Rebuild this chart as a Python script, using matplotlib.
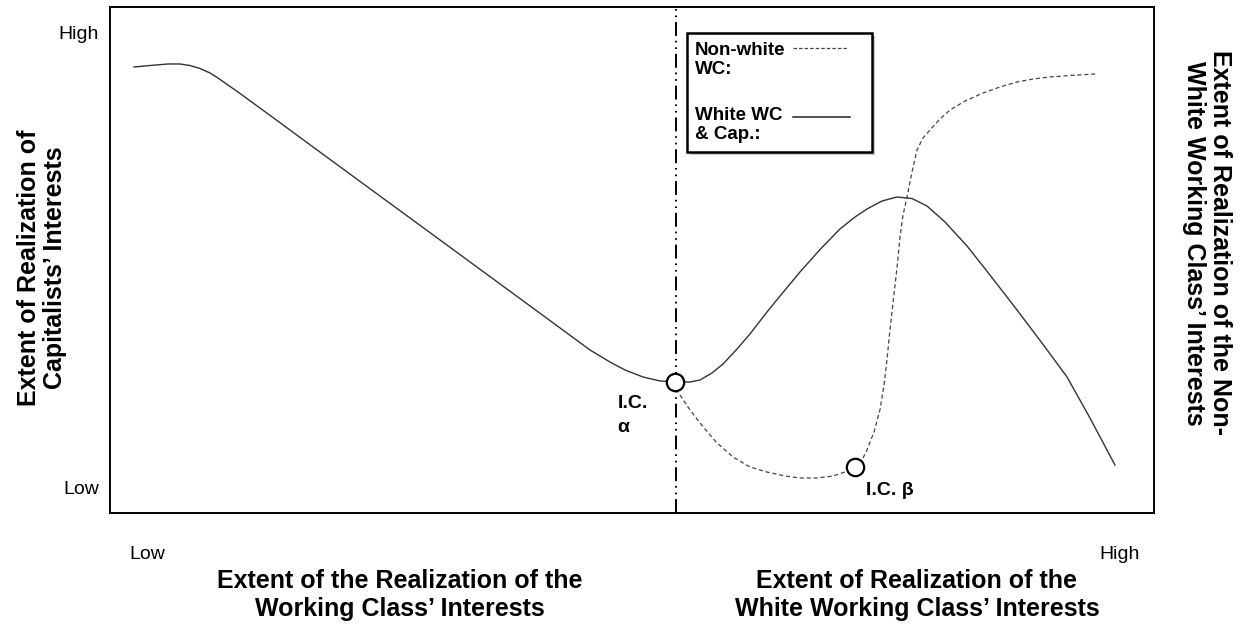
import numpy as np
import matplotlib.pyplot as plt
import matplotlib.patheffects as pe
from matplotlib.patches import Rectangle
from matplotlib.lines import Line2D

plt.rcParams['font.family'] = ['Liberation Sans', 'DejaVu Sans']
plt.rcParams['lines.scale_dashes'] = False

# white working class & capitalists (solid curve), 0-100 scale on both axes
white_x = [2.30, 3.83, 5.56, 6.70, 7.66, 8.62, 9.58, 10.34, 11.30, 12.26, 15.33,
           19.92, 24.90, 29.50, 34.48, 38.41, 42.15, 45.98, 47.89, 49.33, 51.05,
           52.68, 54.12, 55.56, 56.51, 57.66, 58.72, 60.06, 61.30, 62.93, 64.46,
           66.09, 68.01, 69.92, 71.36, 72.51, 73.95, 75.38, 76.82, 78.26, 79.98,
           82.09, 84.29, 86.88, 89.27, 91.67, 93.87, 96.26]
white_y = [88.14, 88.44, 88.74, 88.74, 88.44, 87.85, 86.96, 85.97, 84.58, 83.20, 78.58,
           71.62, 64.09, 57.15, 49.62, 43.68, 38.02, 32.21, 29.84, 28.26, 26.88,
           26.09, 25.89, 25.89, 26.28, 27.67, 29.45, 32.41, 35.38, 39.72, 43.58,
           47.63, 52.07, 56.13, 58.50, 60.08, 61.66, 62.45, 62.15, 60.67, 57.51,
           52.77, 47.03, 40.12, 33.60, 26.88, 18.77, 9.49]

# non-white working class (dashed curve)
nonwhite_x = [54.12, 54.41, 55.36, 56.51, 58.05, 59.67, 61.30, 62.93, 64.66, 66.09,
              67.72, 69.25, 70.40, 71.36, 72.03, 72.51, 73.18, 73.75, 74.14, 74.42,
              74.71, 75.00, 75.38, 75.67, 75.96, 76.34, 76.82, 77.30, 77.87, 78.54,
              79.50, 80.46, 81.90, 83.62, 85.25, 86.88, 88.41, 90.04, 91.95, 94.35]
nonwhite_y = [25.89, 23.91, 20.95, 17.79, 14.03, 11.07, 9.09, 8.10, 7.31, 6.92,
              6.92, 7.31, 8.10, 9.09, 10.47, 12.45, 16.01, 20.36, 25.30, 30.24,
              36.17, 41.50, 48.42, 54.55, 58.89, 62.45, 67.39, 71.74, 74.11, 75.69,
              77.87, 79.64, 81.42, 83.00, 84.19, 85.18, 85.77, 86.17, 86.46, 86.76]

ic_alpha = (54.12, 25.89)
ic_beta = (71.36, 9.09)
divider_x = 54.2

x_ticks = [3.6, 96.7]
x_labels = ['Low', 'High']
y_ticks = [5.1, 94.9]
y_labels = ['Low', 'High']

W, H = 1243, 627
fig = plt.figure(figsize=(12.43, 6.27), dpi=100)
ax = fig.add_axes([110 / W, 1 - 513 / H, 1044 / W, 506 / H])
ax.set_xlim(0, 100)
ax.set_ylim(0, 100)

ax.plot(white_x, white_y, color='#333333', lw=1.0, zorder=3)
ax.plot(nonwhite_x, nonwhite_y, color='#444444', lw=0.9, dashes=(3.0, 2.0), zorder=3)
ax.axvline(divider_x, color='black', lw=1.4, dashes=(10, 3.5, 1.2, 3.5, 1.2, 3.5), zorder=2)

for pt in (ic_alpha, ic_beta):
    ax.plot(pt[0], pt[1], 'o', ms=12.5, mfc='white', mec='black', mew=1.6, zorder=5)

ax.text(48.6, 23.3, 'I.C.\nα', fontsize=14, fontweight='bold', va='top', ha='left',
        linespacing=1.55)
ax.text(72.4, 4.5, 'I.C. β', fontsize=14, fontweight='bold', va='center', ha='left')

ax.set_xticks(x_ticks, x_labels, fontsize=14)
ax.set_yticks(y_ticks, y_labels, fontsize=14)
ax.tick_params(axis='both', length=0)
ax.tick_params(axis='x', pad=24)
ax.tick_params(axis='y', pad=8)
for sp in ax.spines.values():
    sp.set_linewidth(1.4)
    sp.set_path_effects([pe.SimplePatchShadow(offset=(1.5, -1.5), alpha=0.25), pe.Normal()])

# legend box, drawn by hand
box = Rectangle((687 / W, 1 - 152 / H), 185 / W, 119 / H, transform=fig.transFigure,
                facecolor='white', edgecolor='black', lw=1.8, zorder=6,
                path_effects=[pe.SimplePatchShadow(offset=(2, -2), alpha=0.3), pe.Normal()])
fig.add_artist(box)
fig.text(695 / W, 1 - 42 / H, 'Non-white\nWC:', fontsize=13.5, fontweight='bold',
         va='top', ha='left', linespacing=1.15, zorder=7)
fig.text(695 / W, 1 - 107 / H, 'White WC\n& Cap.:', fontsize=13.5, fontweight='bold',
         va='top', ha='left', linespacing=1.15, zorder=7)
fig.add_artist(Line2D([793 / W, 848 / W], [1 - 48 / H, 1 - 48 / H], transform=fig.transFigure,
                      color='#444444', lw=0.9, dashes=(2.5, 1.5), zorder=7))
fig.add_artist(Line2D([793 / W, 850 / W], [1 - 117 / H, 1 - 117 / H], transform=fig.transFigure,
                      color='#222222', lw=1.1, zorder=7))

# axis titles
fig.text(42 / W, 1 - 268 / H, 'Extent of Realization of\nCapitalists\u2019 Interests',
         fontsize=18, fontweight='bold', rotation=90, ha='center', va='center',
         multialignment='center', linespacing=1.15)
fig.text(1207 / W, 1 - 243 / H, 'Extent of Realization of the Non-\nWhite Working Class\u2019 Interests',
         fontsize=18, fontweight='bold', rotation=270, ha='center', va='center',
         multialignment='center', linespacing=1.15)
fig.text(400 / W, 1 - 595 / H, 'Extent of the Realization of the\nWorking Class\u2019 Interests',
         fontsize=18, fontweight='bold', ha='center', va='center', linespacing=1.2)
fig.text(917 / W, 1 - 595 / H, 'Extent of Realization of the\nWhite Working Class\u2019 Interests',
         fontsize=18, fontweight='bold', ha='center', va='center', linespacing=1.2)

fig.savefig('out.png', dpi=100)
